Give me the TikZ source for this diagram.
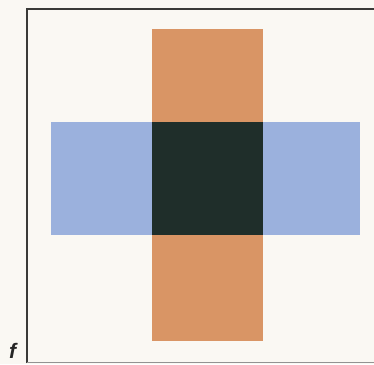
\documentclass[tikz,border=0pt]{standalone}
\usepackage{fontspec}
\setmainfont{Liberation Sans}
\usetikzlibrary{positioning}
\definecolor{paper}{HTML}{FAF8F3}
\definecolor{barorange}{HTML}{D99565}
\definecolor{barblue}{HTML}{9BB1DD}
\definecolor{overlap}{HTML}{1F2E2A}
\definecolor{framegray}{HTML}{3A3A38}

\begin{document}
\begin{tikzpicture}[x=1pt, y=-1pt, bar/.style={rectangle, inner sep=0pt, draw=none}, vbar/.style={bar, fill=barorange, minimum width=111.6pt, minimum height=311.4pt}, hbar/.style={bar, fill=barblue, minimum width=309pt, minimum height=112.7pt}, mid/.style={bar, fill=overlap, minimum width=111.6pt, minimum height=112.7pt}]
\fill[paper] (0,0) rectangle (374,364);
\useasboundingbox (0,0) rectangle (374,364);
\draw[framegray, line width=2pt] (26.5,363) -- (26.5,8.7) -- (380,8.7);
\draw[framegray!55, line width=1.2pt] (26.5,362.6) -- (380,362.6);
\node[hbar] (across) at (205.5,178.7) {};
\node[vbar] (upright) at (207.5,185) {};
\node[mid] (both) at (207.5,178.7) {};
\node[anchor=base west, font=\fontsize{21}{21}\selectfont\bfseries\itshape, text=black!85, inner sep=0pt] (lbl) at (9,358.5) {f};
\end{tikzpicture}
\end{document}
